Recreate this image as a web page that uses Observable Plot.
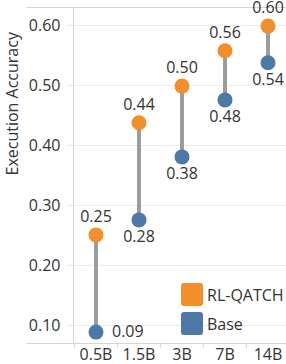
<!DOCTYPE html>
<html>
<head>
<meta charset="utf-8">
<script src="https://cdn.jsdelivr.net/npm/d3@7"></script>
<script src="https://cdn.jsdelivr.net/npm/@observablehq/plot@0.6"></script>
<style>
  html, body { margin: 0; padding: 0; background: #fff; }
  #wrap { position: relative; width: 286px; height: 364px; overflow: hidden; font-family: "Open Sans", sans-serif; }
  .legend { position: absolute; left: 181px; top: 280px; font-size: 16px; color: #333; }
  .legend .row { display: flex; align-items: center; height: 29px; }
  .legend .sw { width: 22px; height: 23px; border-radius: 3px; margin-right: 4px; }
</style>
</head>
<body>
<div id="wrap"></div>
<script>
const categories = ["0.5B", "1.5B", "3B", "7B", "14B"];
const rlValues = [0.251, 0.438, 0.499, 0.558, 0.599];
const baseValues = [0.089, 0.276, 0.381, 0.476, 0.538];
const yTicks = [0.1, 0.2, 0.3, 0.4, 0.5, 0.6];
const seriesNames = ["RL-QATCH", "Base"];
const seriesColors = ["#F28E2B", "#4E79A7"];
const yTitle = "Execution Accuracy";

const yDomain = [0.07, 0.63];
const W = 286, H = 364, mL = 73, mR = -3;
const bw = (W - mL - mR) / categories.length;

const pairs = categories.map((c, i) => ({cat: c, rl: rlValues[i], base: baseValues[i]}));
const points = [];
categories.forEach((c, i) => {
  points.push({cat: c, series: seriesNames[0], v: rlValues[i], idx: i});
  points.push({cat: c, series: seriesNames[1], v: baseValues[i], idx: i});
});
const fmt = d3.format(".2f");

const plot = Plot.plot({
  width: W, height: H,
  marginLeft: mL, marginRight: mR, marginTop: 7, marginBottom: 21,
  style: {fontFamily: "Open Sans, sans-serif", fontSize: "16px", color: "#333", overflow: "hidden"},
  x: {type: "band", domain: categories, padding: 0, label: null},
  y: {domain: yDomain, label: null},
  color: {domain: seriesNames, range: seriesColors},
  marks: [
    Plot.ruleY(yTicks, {stroke: "#ebebeb", insetLeft: -7}),
    Plot.ruleY([yDomain[1], yDomain[0]], {stroke: "#d6d6d6", insetLeft: -46}),
    Plot.frame({anchor: "left", stroke: "#d6d6d6"}),
    Plot.axisY({ticks: yTicks, tickFormat: ".2f", tickSize: 0, tickPadding: 13, fontSize: 16, fill: "#333", label: null}),
    Plot.axisX({tickSize: 5, dx: -bw / 2, tickFormat: () => "", stroke: "#d6d6d6", label: null}),
    Plot.axisX({tickSize: 0, tickPadding: 5, fontSize: 16, fill: "#333", label: null}),
    Plot.text([yTitle], {frameAnchor: "left", rotate: -90, dx: -60.5, fontSize: 16, fill: "#333"}),
    Plot.ruleX(pairs, {x: "cat", y1: "base", y2: "rl", stroke: "#9c9c9c", strokeWidth: 4}),
    Plot.dot(points, {x: "cat", y: "v", fill: "series", r: 7.5}),
    Plot.text(points.filter(d => d.series === seriesNames[0]), {x: "cat", y: "v", text: d => fmt(d.v), dy: -18, fontSize: 16, fill: "#333"}),
    Plot.text(points.filter(d => d.series === seriesNames[1] && d.idx > 0), {x: "cat", y: "v", text: d => fmt(d.v), dy: 17, fontSize: 16, fill: "#333"}),
    Plot.text(points.filter(d => d.series === seriesNames[1] && d.idx === 0), {x: "cat", y: "v", text: d => fmt(d.v), dx: 16, textAnchor: "start", fontSize: 16, fill: "#333"})
  ]
});
const wrap = document.getElementById("wrap");
wrap.appendChild(plot);
const legend = document.createElement("div");
legend.className = "legend";
seriesNames.forEach((n, i) => {
  const row = document.createElement("div");
  row.className = "row";
  const sw = document.createElement("div");
  sw.className = "sw";
  sw.style.background = seriesColors[i];
  const t = document.createElement("span");
  t.textContent = n;
  row.appendChild(sw); row.appendChild(t);
  legend.appendChild(row);
});
wrap.appendChild(legend);
</script>
</body>
</html>
